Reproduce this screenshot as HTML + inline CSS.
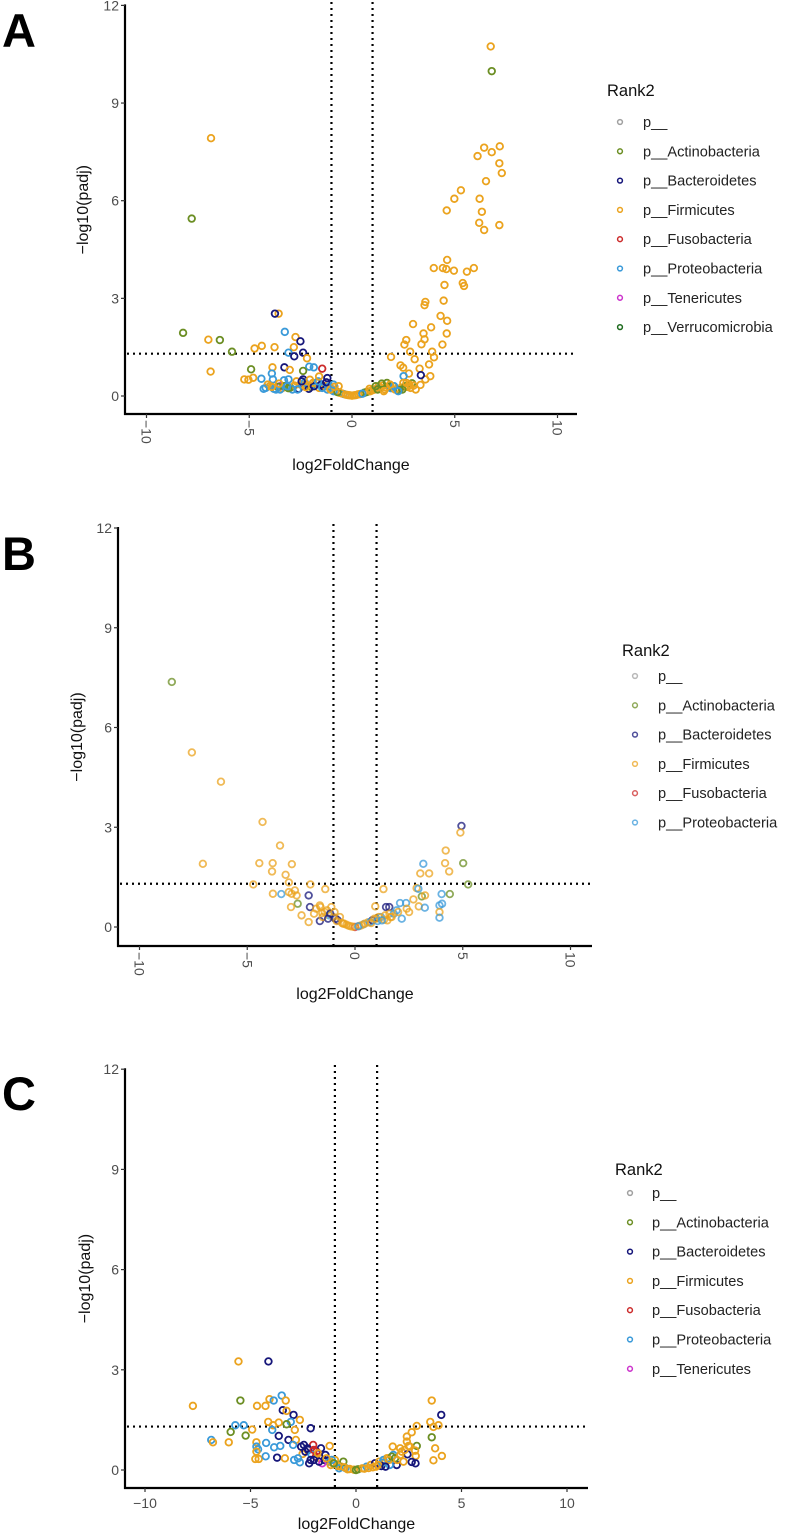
<!DOCTYPE html>
<html><head><meta charset="utf-8">
<style>
html,body{margin:0;padding:0;background:#fff;}
svg{display:block;font-family:"Liberation Sans",Arial,sans-serif;}
</style></head>
<body>
<svg id="fig" width="787" height="1535" viewBox="0 0 787 1535" xmlns="http://www.w3.org/2000/svg"></svg>
<script>
const phylumNames = ["p__","p__Actinobacteria","p__Bacteroidetes","p__Firmicutes","p__Fusobacteria","p__Proteobacteria","p__Tenericutes","p__Verrucomicrobia"];
const phylumColors = ["#a0a0a0","#6b8e23","#16167a","#eba31e","#cc2a2a","#3a9ad9","#cc33cc","#1e6b1e"];
const yTicks = [0,3,6,9,12];
const xTicks = [-10,-5,0,5,10];
const thresholdX = [-1,1];
const thresholdY = [1.3];

// Panel A data
const lfcA = [6.75,6.8,-6.86,-7.8,6.43,6.11,6.8,7.19,7.17,7.29,6.52,5.3,4.98,6.21,4.61,6.32,6.19,6.43,7.17,
4.63,3.98,4.42,4.59,4.96,5.59,5.93,4.5,5.39,5.45,3.57,3.53,4.46,4.31,4.63,2.97,3.85,3.48,4.61,3.53,2.64,2.55,3.38,4.4,2.83,3.9,1.9,3.05,3.99,2.36,3.75,2.49,3.29,2.77,3.81,3.33,3.57,
3.35,2.51,2.92,
-8.22,-6.99,-6.43,-5.84,-6.88,-4.91,-4.74,-4.39,-3.77,-3.57,-3.75,-3.27,-2.75,-2.51,-2.83,-3.09,-2.38,-2.81,-2.19,-3.29,-2.08,-1.86,-1.45,-3.87,-3.9,-3.03,-2.38,-2.38,-5.24,-5.04,-4.81,-4.41,-3.85,-3.31,-3.09,-3.49,
-4.2,-4.0,-3.8,-3.6,-3.4,-3.2,-3.0,-2.8,-2.6,-2.4,-2.2,-2.0,-1.8,-1.6,-1.4,-1.2,-1.0,-0.8,-0.6,-0.4,-0.2,0.0,0.2,0.4,0.6,0.8,1.0,1.2,1.4,1.6,1.8,2.0,2.2,2.4,2.6,2.8,3.0,
-4.1,-3.7,-3.3,-2.9,-2.5,-2.1,-1.7,-1.3,-0.9,-0.5,-0.1,0.3,0.7,1.1,1.5,1.9,2.3,2.7,-2.7,-2.3,-1.9,-1.5,-1.1,1.3,1.7,2.1,2.5,
-4.3,-3.9,-3.5,-3.1,-2.65,-2.25,-1.85,-1.45,-1.05,-0.7,-0.3,0.1,0.5,0.9,1.25,1.65,2.05,2.45,2.85,-3.55,-3.15,-2.45,-2.05,-1.65,-1.25,-0.85,0.85,1.45,1.85,2.25,2.65,3.1,-1.6,-1.2,-0.9,-0.65,1.15,1.55];
const padjA = [10.74,9.98,7.92,5.45,7.63,7.37,7.49,7.67,7.15,6.85,6.6,6.32,6.06,6.06,5.7,5.66,5.32,5.1,5.25,
4.18,3.93,3.93,3.9,3.85,3.82,3.93,3.41,3.47,3.38,2.89,2.79,2.93,2.46,2.31,2.21,2.11,1.92,1.92,1.74,1.72,1.58,1.59,1.58,1.36,1.36,1.2,1.13,1.19,0.94,0.97,0.87,0.84,0.69,0.61,0.34,0.51,
0.64,0.61,0.39,
1.94,1.73,1.72,1.36,0.75,0.82,1.46,1.54,1.5,2.53,2.53,1.97,1.81,1.68,1.5,1.33,1.33,1.22,1.16,0.88,0.9,0.88,0.84,0.88,0.69,0.8,0.77,0.51,0.51,0.5,0.56,0.53,0.51,0.48,0.51,0.3,
0.25,0.3,0.22,0.28,0.24,0.3,0.26,0.32,0.22,0.35,0.3,0.28,0.33,0.25,0.3,0.2,0.22,0.15,0.1,0.06,0.03,0.01,0.03,0.06,0.1,0.14,0.18,0.22,0.25,0.2,0.28,0.3,0.22,0.26,0.3,0.35,0.32,
0.35,0.2,0.3,0.2,0.35,0.22,0.4,0.3,0.15,0.08,0.02,0.05,0.12,0.2,0.32,0.24,0.18,0.28,0.45,0.42,0.4,0.35,0.3,0.3,0.4,0.2,0.4,
0.22,0.28,0.2,0.24,0.2,0.27,0.3,0.25,0.2,0.12,0.04,0.02,0.07,0.15,0.2,0.26,0.3,0.2,0.25,0.38,0.3,0.45,0.5,0.45,0.42,0.28,0.22,0.38,0.35,0.15,0.4,0.2,0.6,0.55,0.35,0.3,0.3,0.15];
const phylumA = [3,1,3,1,3,3,3,3,3,3,3,3,3,3,3,3,3,3,3,
3,3,3,3,3,3,3,3,3,3,3,3,3,3,3,3,3,3,3,3,3,3,3,3,3,3,3,3,3,3,3,3,3,3,3,3,3,
2,5,1,
1,3,1,1,3,1,3,3,3,3,2,5,3,2,3,5,2,2,3,2,5,5,4,3,5,3,1,2,3,3,3,5,5,5,5,6,
5,3,5,1,3,5,1,3,2,5,3,1,5,3,2,5,3,5,3,5,3,3,3,3,1,3,3,5,3,3,1,3,5,3,1,3,3,
3,5,1,5,3,2,5,3,5,3,3,3,1,3,3,5,1,3,3,5,3,2,5,3,1,3,3,
5,3,5,1,5,3,2,5,3,1,3,3,5,3,1,3,5,1,3,3,5,2,3,5,2,3,3,1,3,5,3,3,3,2,5,3,1,3];

// Panel B data
const lfcB = [-8.5,-7.57,-6.22,-4.29,-7.06,-3.48,-4.44,-3.82,-2.93,-3.85,-3.22,-4.72,-3.07,-2.07,-1.38,-3.42,-3.81,-2.94,-2.71,-3.07,-2.79,-2.66,-2.97,-2.15,-2.09,-2.48,-2.15,-1.52,-1.63,-1.63,
4.94,4.89,5.02,5.25,4.21,4.18,4.37,3.17,3.03,3.44,2.86,2.94,3.1,3.25,4.02,4.4,2.71,2.96,3.24,3.92,4.04,3.92,3.92,2.09,2.37,2.4,2.51,2.17,1.44,1.59,1.93,1.32,0.94,
0.0,-1.4,-1.2,-1.0,-0.8,-0.6,-0.4,-0.2,0.2,0.4,0.6,0.8,1.0,1.2,1.4,1.6,-1.3,-0.9,-0.5,-0.1,0.3,0.7,1.1,1.5,-1.8,-1.1,1.8,-0.7,
-1.5,-1.15,-0.85,-0.55,-0.3,0.15,0.45,0.75,1.05,1.35,1.7,-1.9,-1.6,-1.25,-0.95,0.9,1.25,1.65,2.0];
const padjB = [7.37,5.25,4.37,3.16,1.9,2.45,1.92,1.92,1.89,1.67,1.57,1.28,1.34,1.28,1.14,0.99,1.0,1.0,0.95,1.05,1.1,0.7,0.6,0.95,0.6,0.35,0.15,0.42,0.65,0.18,
3.04,2.84,1.92,1.28,2.3,1.92,1.67,1.9,1.61,1.61,1.17,1.15,0.92,0.95,0.99,0.99,0.83,0.62,0.58,0.65,0.7,0.45,0.28,0.72,0.72,0.55,0.45,0.25,0.6,0.6,0.5,1.14,0.62,
0.0,0.45,0.35,0.3,0.2,0.12,0.07,0.02,0.03,0.08,0.14,0.2,0.25,0.3,0.35,0.4,0.5,0.25,0.1,0.01,0.05,0.15,0.3,0.2,0.55,0.6,0.4,0.3,
0.3,0.4,0.18,0.1,0.04,0.02,0.1,0.12,0.18,0.22,0.3,0.4,0.6,0.25,0.45,0.25,0.2,0.3,0.45];
const phylumB = [1,3,3,3,3,3,3,3,3,3,3,3,3,3,3,5,3,3,3,3,3,1,3,2,2,3,3,3,3,2,
2,3,1,1,3,3,3,5,3,3,3,5,1,3,5,1,3,3,5,5,5,3,5,5,5,3,3,5,2,2,5,3,3,
4,3,5,3,2,3,3,3,3,5,3,2,3,5,3,3,3,2,3,3,3,5,3,3,3,3,5,3,
3,2,3,3,3,5,3,3,5,3,3,3,3,2,3,3,5,3,3];

// Panel C data
const lfcC = [-5.57,-4.15,-7.73,-5.48,-3.52,-4.1,-3.33,-4.69,-4.29,-3.47,-3.9,-3.29,-2.96,-2.66,-3.09,-3.66,-4.16,-3.93,-3.29,-5.72,-5.32,-4.92,-3.97,-2.9,-2.15,-5.94,-5.23,-3.66,-6.86,-6.78,-6.03,-4.72,-4.26,-3.2,-2.85,-4.72,-4.64,-3.88,-3.59,-2.98,-4.72,-4.77,-4.61,-4.28,-3.74,-3.37,-2.93,-2.66,-2.53,-2.47,-2.26,-2.03,-1.87,-1.66,-1.25,-2.22,
3.59,4.04,3.52,3.91,2.88,3.67,2.64,3.59,2.41,2.41,2.49,2.88,3.75,4.07,3.67,1.74,2.09,2.17,2.44,2.8,2.83,2.64,2.82,1.46,1.77,1.93,1.3,
-2.4,-2.1,-1.9,-1.7,-1.5,-1.3,-1.1,-0.9,-0.7,-0.5,-0.3,-0.1,0.1,0.3,0.5,0.7,0.9,1.1,1.3,1.5,1.7,-2.0,-1.6,-1.2,-0.8,-0.4,0.0,0.4,0.8,1.2,1.6,-1.0,-0.6,
-2.6,-2.3,-2.0,-1.8,-1.45,-1.15,-0.85,-0.55,0.6,0.95,1.25,1.55,1.85,2.1,2.3,2.55,-2.75,-2.15,-1.75,-1.4,-1.05,1.05,1.4,1.95,2.25];
const padjC = [3.25,3.25,1.92,2.08,2.23,2.12,2.08,1.92,1.92,1.79,2.08,1.77,1.65,1.5,1.44,1.42,1.44,1.34,1.37,1.34,1.34,1.21,1.2,1.2,1.25,1.14,1.03,1.02,0.9,0.83,0.83,0.83,0.81,0.9,0.9,0.7,0.62,0.68,0.72,0.75,0.55,0.33,0.33,0.41,0.37,0.35,0.3,0.23,0.48,0.75,0.6,0.75,0.55,0.65,0.72,0.2,
2.08,1.65,1.44,1.34,1.32,1.29,1.13,0.98,1.0,0.85,0.72,0.72,0.65,0.42,0.29,0.7,0.65,0.55,0.47,0.58,0.42,0.24,0.2,0.35,0.45,0.15,0.22,
0.55,0.45,0.4,0.35,0.3,0.25,0.2,0.15,0.1,0.06,0.03,0.01,0.02,0.05,0.1,0.15,0.2,0.25,0.3,0.35,0.4,0.3,0.2,0.15,0.05,0.02,0.0,0.04,0.08,0.12,0.15,0.3,0.25,
0.7,0.65,0.6,0.5,0.45,0.3,0.12,0.08,0.06,0.1,0.22,0.3,0.35,0.45,0.6,0.7,0.35,0.3,0.25,0.35,0.2,0.15,0.1,0.3,0.25];
const phylumC = [3,2,3,1,5,3,3,3,3,2,5,3,2,3,5,3,3,3,1,5,5,3,5,3,2,1,1,2,5,3,3,3,5,2,3,5,5,5,5,5,3,3,3,5,2,3,5,5,3,2,2,4,4,2,3,2,
3,2,3,3,3,3,3,1,3,3,3,1,3,3,3,3,3,3,2,3,3,2,2,3,5,2,3,
2,5,4,3,2,5,3,1,3,5,3,3,1,3,5,3,2,3,5,3,1,2,6,3,5,3,1,3,3,2,5,3,1,
2,2,4,3,2,5,3,3,3,3,5,3,1,3,3,3,5,2,2,3,1,3,2,3,3];

const NS = "http://www.w3.org/2000/svg";
const svg = document.getElementById("fig");
function mk(tag, attrs, parent){
  const e = document.createElementNS(NS, tag);
  for (const k in attrs) e.setAttribute(k, attrs[k]);
  (parent||svg).appendChild(e);
  return e;
}

const panels = [
  {id:"a", letter:"A", lfc:lfcA, padj:padjA, ph:phylumA, legendN:8,
   x0:352, xs:20.55, y0:396, ys:32.55, axL:125, axR:577, axB:414, top:2,
   rot:true, yTitleX:88, xTitleY:470, letterY:47, legX:607, legY:90, legCX:620, legTX:643, legStart:122, alpha:1},
  {id:"b", letter:"B", lfc:lfcB, padj:padjB, ph:phylumB, legendN:6,
   x0:355, xs:21.55, y0:927, ys:33.25, axL:118, axR:592, axB:946, top:524,
   rot:true, yTitleX:82, xTitleY:999, letterY:570, legX:622, legY:650, legCX:635, legTX:658, legStart:676, alpha:0.75},
  {id:"c", letter:"C", lfc:lfcC, padj:padjC, ph:phylumC, legendN:7,
   x0:356, xs:21.1, y0:1470, ys:33.4, axL:125, axR:588, axB:1488, top:1065,
   rot:false, yTitleX:90, xTitleY:1529, letterY:1110, legX:615, legY:1169, legCX:630, legTX:652, legStart:1193, alpha:1}
];

panels.forEach(p => {
  const g = mk("g", {});
  
  
  const X = v => p.x0 + v * p.xs;
  const Y = v => p.y0 - v * p.ys;

  const lt = mk("text", {x:2, y:p.letterY, "font-size":"47", "font-weight":"bold", fill:"#000"}, g);
  lt.textContent = p.letter;
  
  

  thresholdX.forEach(v => {
    const l = mk("line", {x1:X(v), x2:X(v), y1:p.top, y2:p.axB, stroke:"#000", "stroke-width":"2.2", "stroke-dasharray":"2 4"}, g);
    
    
  });
  thresholdY.forEach(v => {
    const l = mk("line", {x1:p.axL+2, x2:p.axR, y1:Y(v), y2:Y(v), stroke:"#000", "stroke-width":"2.2", "stroke-dasharray":"2 4"}, g);
    
    
  });

  const pg = mk("g", {}, g);
  
  
  for (let i = 0; i < p.lfc.length; i++) {
    const c = mk("circle", {cx:X(p.lfc[i]), cy:Y(p.padj[i]), r:"3.3", fill:"none",
      stroke:phylumColors[p.ph[i]], "stroke-width":"1.8", "stroke-opacity":p.alpha}, pg);
    
    
  }

  const ya = mk("line", {x1:p.axL, x2:p.axL, y1:Y(12)-1, y2:p.axB+1, stroke:"#000", "stroke-width":"2.2"}, g);
  
  
  const xa = mk("line", {x1:p.axL-1, x2:p.axR, y1:p.axB, y2:p.axB, stroke:"#000", "stroke-width":"2.2"}, g);
  
  

  yTicks.forEach(v => {
    const t = mk("line", {x1:p.axL-4, x2:p.axL, y1:Y(v), y2:Y(v), stroke:"#333", "stroke-width":"1.2"}, g);
    
    
    const tx = mk("text", {x:p.axL-6, y:Y(v)+5, "font-size":"14", fill:"#4d4d4d", "text-anchor":"end"}, g);
    tx.textContent = String(v);
    
    
  });
  xTicks.forEach(v => {
    const t = mk("line", {x1:X(v), x2:X(v), y1:p.axB, y2:p.axB+4, stroke:"#333", "stroke-width":"1.2"}, g);
    
    
    const lbl = (v < 0 ? "\u2212" + Math.abs(v) : String(v));
    let tx;
    if (p.rot) {
      tx = mk("text", {x:0, y:0, "font-size":"14", fill:"#4d4d4d", "text-anchor":"start",
        transform:"translate(" + (X(v)-5) + "," + (p.axB+6) + ") rotate(90)"}, g);
    } else {
      tx = mk("text", {x:X(v), y:p.axB+20, "font-size":"14", fill:"#4d4d4d", "text-anchor":"middle"}, g);
    }
    tx.textContent = lbl;
    
    
  });

  const yt = mk("text", {x:0, y:0, "font-size":"16", fill:"#111", "text-anchor":"middle",
    transform:"translate(" + p.yTitleX + "," + ((Y(12)+p.axB)/2) + ") rotate(-90)"}, g);
  yt.textContent = "\u2212log10(padj)";
  
  
  const xt = mk("text", {x:(p.axL+p.axR)/2, y:p.xTitleY, "font-size":"16", fill:"#111", "text-anchor":"middle"}, g);
  xt.textContent = "log2FoldChange";
  
  

  const lg = mk("g", {}, g);
  
  
  const ttl = mk("text", {x:p.legX, y:p.legY+6, "font-size":"16.5", fill:"#111"}, lg);
  ttl.textContent = "Rank2";
  
  
  for (let k = 0; k < p.legendN; k++) {
    const yy = p.legStart + k * 29.3;
    const c = mk("circle", {cx:p.legCX, cy:yy, r:"2.4", fill:"none", stroke:phylumColors[k], "stroke-width":"1.5", "stroke-opacity":p.alpha}, lg);
    
    
    const t = mk("text", {x:p.legTX, y:yy+5, "font-size":"14.6", fill:"#222"}, lg);
    t.textContent = phylumNames[k];
    
    
  }
});
</script>
</body></html>
